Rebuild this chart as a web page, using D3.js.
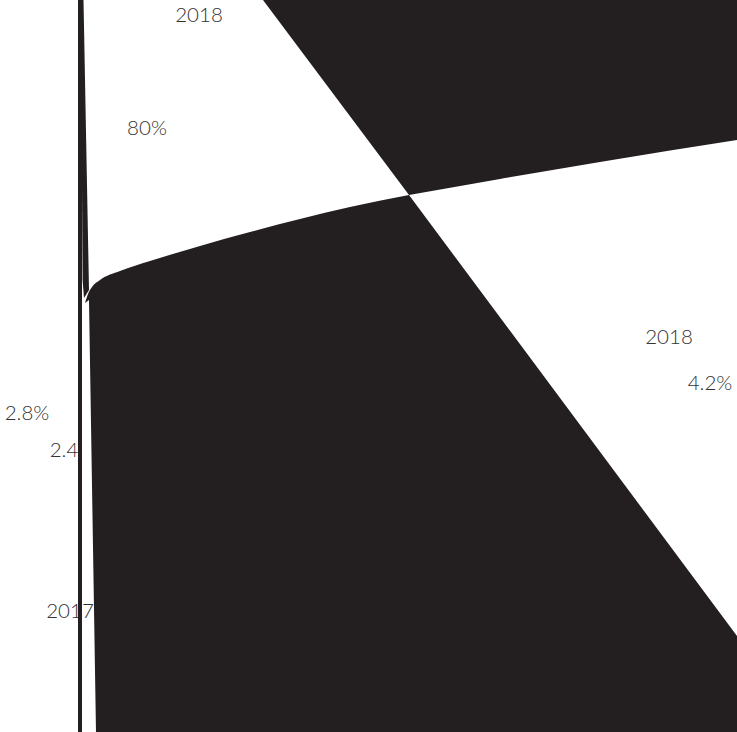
<!DOCTYPE html>
<html>
<head>
<meta charset="utf-8">
<script src="https://cdn.jsdelivr.net/npm/d3@7"></script>
<style>
  html, body { margin: 0; padding: 0; background: #fff; overflow: hidden; }
  text { font-family: Lato, "Open Sans", sans-serif; font-weight: 300; fill: #333; }
</style>
</head>
<body>
<div id="chart"></div>
<script>
// chart units (cropped artboard): x 0..737, y 0..732
var curvePoints = [
    [85, 303], [88, 294], [92, 287], [100, 280], [120, 271], [150, 261],
    [200, 246], [250, 232], [300, 219], [350, 207], [409, 195],
    [500, 179], [600, 162], [737, 140]
];
var diagonalPoints = [ [263, 0], [409, 195], [737, 636] ];
var leftEdge = [ [96, 732], [89, 300] ];
var barPoints = [ [78, 0], [82, 0], [82, 732], [78, 732] ];
var wedgePoints = [ [80.8, 0], [83.5, 0], [89, 290], [84, 298], [82.6, 280] ];

var labels = [
    { text: "2018", x: 199, y: 22, anchor: "middle" },
    { text: "80%", x: 147, y: 135, anchor: "middle" },
    { text: "2.8%", x: 27, y: 420, anchor: "middle" },
    { text: "2.4", x: 64, y: 457, anchor: "middle" },
    { text: "2017", x: 70, y: 618, anchor: "middle" },
    { text: "2018", x: 669, y: 344, anchor: "middle" },
    { text: "4.2%", x: 710, y: 390, anchor: "middle" }
];

var width = 737, height = 732;
var ink = "#231f20";

var x = d3.scaleLinear().domain([0, 737]).range([0, width]);
var y = d3.scaleLinear().domain([0, 732]).range([0, height]);

var svg = d3.select("#chart").append("svg")
    .attr("width", width)
    .attr("height", height);

var line = d3.line()
    .x(function(d){ return x(d[0]); })
    .y(function(d){ return y(d[1]); });

var curvedLine = d3.line()
    .x(function(d){ return x(d[0]); })
    .y(function(d){ return y(d[1]); })
    .curve(d3.curveMonotoneX);

// lower shape: under the curve, left of the diagonal
var lowerPath = curvedLine(curvePoints.filter(function(p){ return p[0] <= 409; }))
    + line([ [409, 195], [737, 636], [737, 732] ].concat(leftEdge)).replace("M", "L") + "Z";

// upper shape: above the curve, right of the diagonal
var upperPath = line([ [263, 0], [737, 0] ])
    + curvedLine(curvePoints.filter(function(p){ return p[0] >= 409; }).reverse()).replace("M", "L")
    + line([ diagonalPoints[1], diagonalPoints[0] ]).replace("M", "L") + "Z";

// labels first, the bar sits on top of them
svg.selectAll("text.label")
    .data(labels)
    .enter().append("text")
    .attr("class", "label")
    .attr("x", function(d){ return x(d.x); })
    .attr("y", function(d){ return y(d.y); })
    .attr("text-anchor", function(d){ return d.anchor; })
    .attr("font-size", 20.5)
    .text(function(d){ return d.text; });

svg.append("path").attr("d", lowerPath).attr("fill", ink);
svg.append("path").attr("d", upperPath).attr("fill", ink);

svg.append("path").attr("d", line(barPoints) + "Z").attr("fill", ink);
svg.append("path").attr("d", line(wedgePoints) + "Z").attr("fill", ink);
</script>
</body>
</html>
